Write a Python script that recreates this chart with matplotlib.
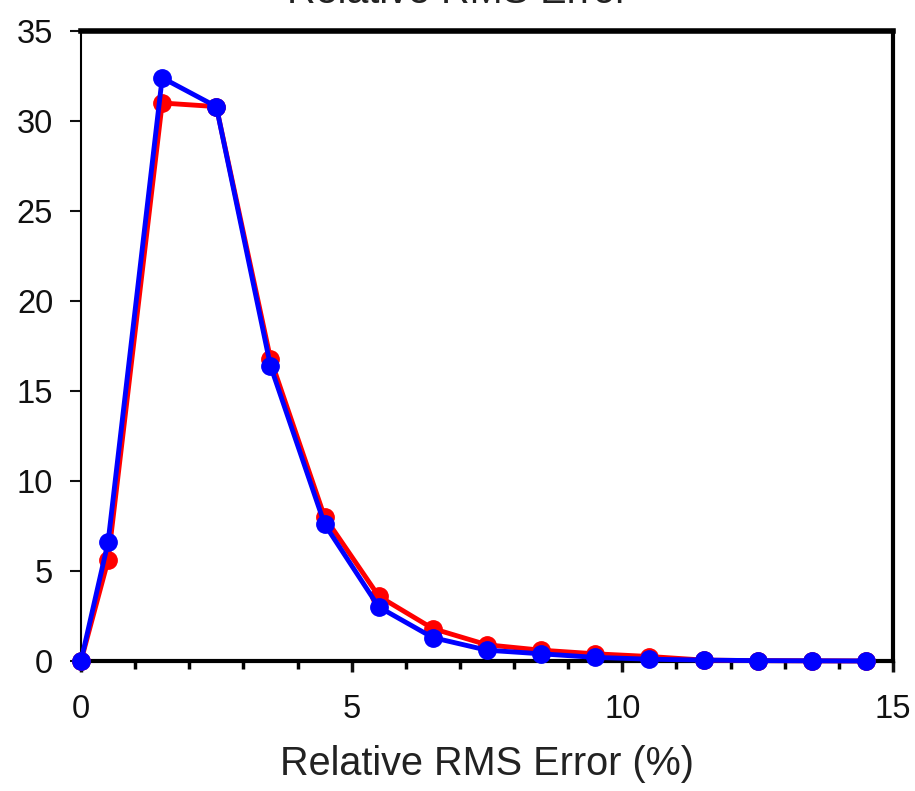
import matplotlib
matplotlib.use("Agg")
from matplotlib import pyplot
from matplotlib.ticker import MultipleLocator

pyplot.rcParams["font.family"] = ["Liberation Sans", "DejaVu Sans"]

# data

x = [0.0, 0.5, 1.5, 2.5, 3.5, 4.5, 5.5, 6.5, 7.5, 8.5, 9.5, 10.5, 11.5, 12.5, 13.5, 14.5]
red = [0.0, 5.6, 31.0, 30.8, 16.8, 8.0, 3.6, 1.8, 0.9, 0.6, 0.4, 0.25, 0.05, 0.02, 0.01, 0.0]
blue = [0.0, 6.6, 32.4, 30.8, 16.4, 7.6, 3.0, 1.3, 0.6, 0.4, 0.2, 0.1, 0.05, 0.02, 0.01, 0.0]

title = "Relative RMS Error"
xlabel = "Relative RMS Error (%)"

# figure

W, H = 915, 791
fig = pyplot.figure(figsize=(W / 100, H / 100), dpi=100)
ax = fig.add_axes([81 / W, 1 - 661 / H, (893 - 81) / W, (661 - 31) / H])

ax.plot(x, red, color="#ff0000", lw=3.5, marker="o", ms=12.5, mec="#ff0000", clip_on=False, zorder=3)
ax.plot(x, blue, color="#0000ff", lw=3.5, marker="o", ms=12.5, mec="#0000ff", clip_on=False, zorder=4)

ax.set_xlim(0, 15)
ax.set_ylim(0, 35)
ax.xaxis.set_major_locator(MultipleLocator(5))
ax.xaxis.set_minor_locator(MultipleLocator(1))
ax.yaxis.set_major_locator(MultipleLocator(5))

ax.tick_params(axis="x", which="major", direction="out", length=8, width=2.5,
               labelsize=23.5, pad=16, colors="#111111")
ax.tick_params(axis="x", which="minor", direction="out", length=6, width=2.5)
ax.tick_params(axis="y", which="major", direction="out", length=8, width=1.5,
               labelsize=23.5, pad=12, colors="#111111")

ax.spines["top"].set_linewidth(4)
ax.spines["right"].set_linewidth(3)
ax.spines["bottom"].set_linewidth(3)
ax.spines["left"].set_linewidth(1.5)

ax.set_xlabel(xlabel, fontsize=28.5, color="#222222", labelpad=14)
fig.text(0.5, 1 - 3 / H, title, fontsize=28.5, color="#222222", ha="center", va="baseline")

fig.savefig("out.png", dpi=100)
